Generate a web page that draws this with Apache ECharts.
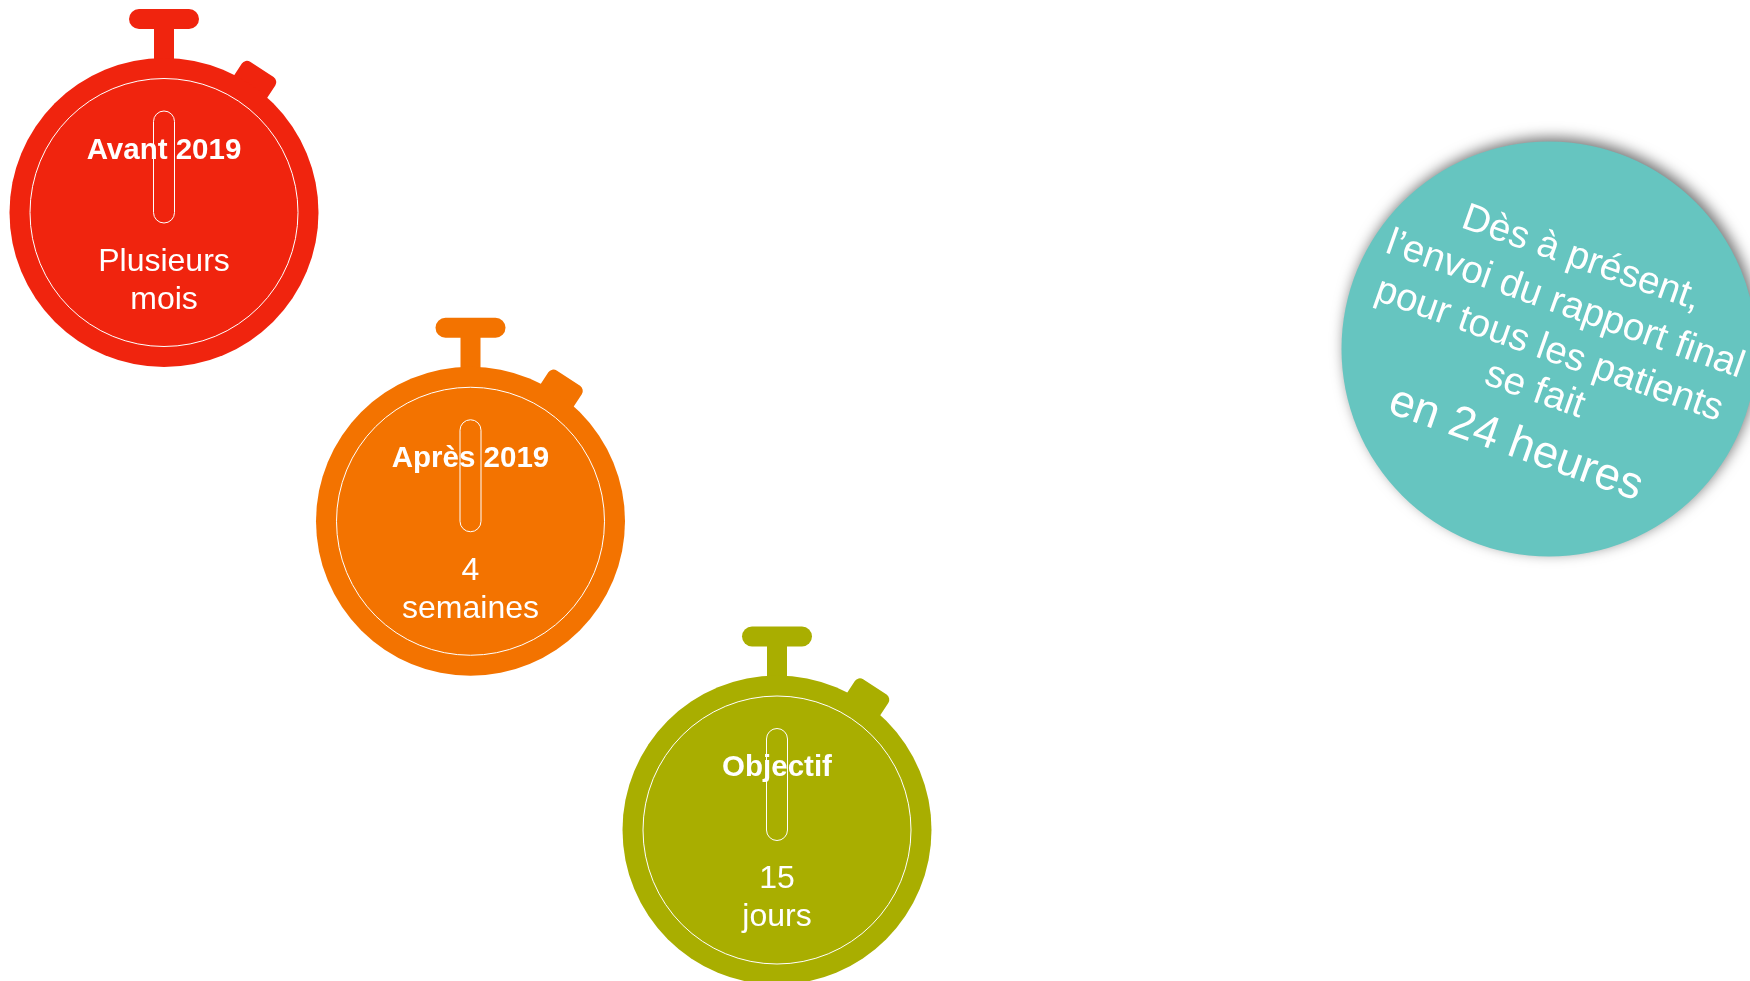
<!DOCTYPE html>
<html>
<head>
<meta charset="utf-8">
<title>Délai du rapport final</title>
<script src="https://cdn.jsdelivr.net/npm/echarts@6/dist/echarts.min.js"></script>
<style>
  html, body { margin: 0; padding: 0; background: #fff; }
  #chart { width: 1750px; height: 981px; }
</style>
</head>
<body>
<div id="chart"></div>
<script>
var phases = ['Avant 2019', 'Après 2019', 'Objectif'];
var delais = ['Plusieurs\nmois', '4\nsemaines', '15\njours'];
var messageLines = ['Dès à présent,', 'l’envoi du rapport final', 'pour tous les patients', 'se fait'];
var messageDelai = 'en 24 heures';

var colors = ['#f0240e', '#f37300', '#a9ae00'];
var teal = '#66c5c0';
var fontFamily = '"Liberation Sans", Arial, sans-serif';

// un chronometre par phase, place par les deux axes categories
function renderWatch(params, api) {
  var center = api.coord([api.value(0), api.value(1)]);
  var color = colors[params.dataIndex];
  return {
    type: 'group',
    x: center[0],
    y: center[1],
    children: [
      { type: 'rect', x: 88, y: -128, rotation: -0.58, shape: { x: -20, y: -18, width: 40, height: 40, r: 6 }, style: { fill: color } },
      { type: 'rect', shape: { x: -10, y: -190, width: 20, height: 50 }, style: { fill: color } },
      { type: 'rect', shape: { x: -35, y: -203.5, width: 70, height: 20, r: 10 }, style: { fill: color } },
      { type: 'circle', shape: { cx: 0, cy: 0, r: 154.5 }, style: { fill: color } },
      { type: 'circle', shape: { cx: 0, cy: 0, r: 134 }, style: { fill: 'none', stroke: '#fff', lineWidth: 1 } },
      { type: 'rect', shape: { x: -10.5, y: -101.5, width: 21, height: 112, r: 10.5 }, style: { fill: 'none', stroke: '#fff', lineWidth: 1 } },
      {
        type: 'text',
        y: -62,
        style: { text: api.value(2), fill: '#fff', font: 'bold 29.5px ' + fontFamily, align: 'center', verticalAlign: 'middle' }
      },
      {
        type: 'text',
        y: 68.5,
        style: { text: api.value(3), fill: '#fff', font: '32px ' + fontFamily, lineHeight: 38, align: 'center', verticalAlign: 'middle' }
      }
    ]
  };
}

var chart = echarts.init(document.getElementById('chart'), null, { renderer: 'canvas' });

chart.setOption({
  animation: false,
  grid: { left: 164, top: 212.5, width: 613, height: 617.5 },
  xAxis: { type: 'category', boundaryGap: false, data: phases, show: false },
  yAxis: { type: 'category', boundaryGap: false, data: phases, inverse: true, show: false },
  series: [{
    type: 'custom',
    silent: true,
    clip: false,
    renderItem: renderWatch,
    data: phases.map(function (p, i) { return [p, p, p, delais[i]]; }),
    encode: { x: 0, y: 1 },
    dimensions: [
      { name: 'x', type: 'ordinal' },
      { name: 'y', type: 'ordinal' },
      { name: 'phase', type: 'ordinal' },
      { name: 'delai', type: 'ordinal' }
    ]
  }],
  graphic: [
    {
      type: 'circle',
      silent: true,
      shape: { cx: 1549, cy: 349, r: 207.5 },
      style: { fill: teal, shadowColor: 'rgba(0,0,0,0.55)', shadowBlur: 14, shadowOffsetX: 3, shadowOffsetY: -4 }
    },
    {
      type: 'group',
      silent: true,
      x: 1548,
      y: 353,
      rotation: -0.34,
      children: [
        { type: 'text', y: -100, style: { text: messageLines[0], fill: '#fff', font: '38.5px ' + fontFamily, align: 'center', verticalAlign: 'middle' } },
        { type: 'text', y: -51, style: { text: messageLines[1], fill: '#fff', font: '38.5px ' + fontFamily, align: 'center', verticalAlign: 'middle' } },
        { type: 'text', y: -3, style: { text: messageLines[2], fill: '#fff', font: '38.5px ' + fontFamily, align: 'center', verticalAlign: 'middle' } },
        { type: 'text', y: 40, style: { text: messageLines[3], fill: '#fff', font: '38.5px ' + fontFamily, align: 'center', verticalAlign: 'middle' } },
        { type: 'text', y: 97, style: { text: messageDelai, fill: '#fff', font: '45.5px ' + fontFamily, align: 'center', verticalAlign: 'middle' } }
      ]
    }
  ]
});
</script>
</body>
</html>
